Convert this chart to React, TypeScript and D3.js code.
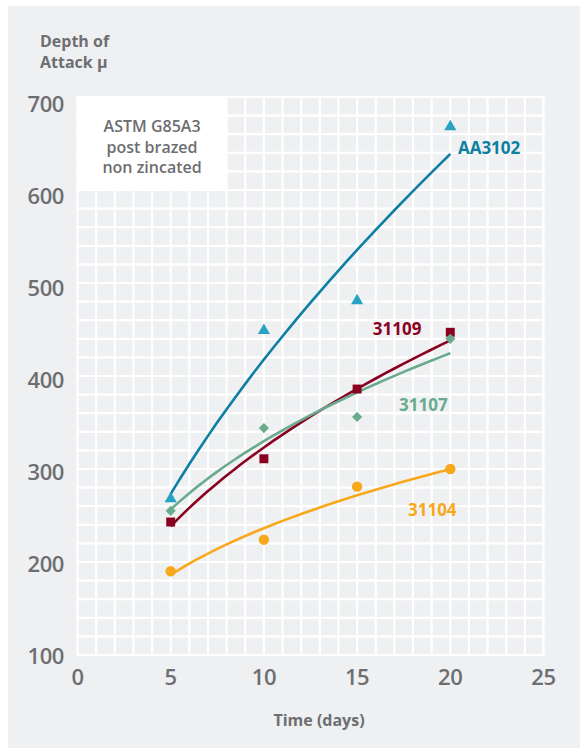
import React, { useEffect, useRef } from 'react';
import * as d3 from 'd3';

// days of exposure
const days = [5, 10, 15, 20];

// depth of attack (µ)
const aa3102 = [269, 450, 482, 669];
const s31109 = [243, 311, 386, 447];
const s31107 = [255, 344, 356, 440];
const s31104 = [190, 224, 281, 300];

const xTicks = [0, 5, 10, 15, 20, 25];
const yTicks = [100, 200, 300, 400, 500, 600, 700];

const seriesNames = ['AA3102', '31109', '31107', '31104'];
const seriesValues = [aa3102, s31109, s31107, s31104];

const lineColors = ['#0d7fa2', '#8a0021', '#6aab8e', '#f8a81b'];
const markerColors = ['#27a3c3', '#8a0021', '#6aab8e', '#f8a81b'];
const symbols = [d3.symbolTriangle, d3.symbolSquare, d3.symbolSquare, d3.symbolCircle];
const symbolSizes = [64, 80, 52, 85];
const symbolRotate = [0, 0, 45, 0];
// label anchor in data units (x, y) for each series
const labelPos: [number, number][] = [[20.41, 639], [15.84, 444], [17.25, 362], [17.73, 250]];

const grey = '#6d6e71';
const font = "'Open Sans', sans-serif";

// power-law trend line y = a * x^b (least squares on logs)
function powerFit(xs: number[], ys: number[]) {
    const lx = xs.map(Math.log);
    const ly = ys.map(Math.log);
    const mx = d3.mean(lx)!;
    const my = d3.mean(ly)!;
    const sxy = d3.sum(lx, (v, i) => (v - mx) * (ly[i] - my));
    const sxx = d3.sum(lx, v => (v - mx) * (v - mx));
    const b = sxy / sxx;
    const a = Math.exp(my - b * mx);
    return (x: number) => a * Math.pow(x, b);
}

const App: React.FC = () => {
    const svgRef = useRef<SVGSVGElement | null>(null);

    useEffect(() => {
        const svg = d3.select(svgRef.current);
        svg.selectAll('*').remove();

        const width = 580;
        const height = 748;
        const plot = { left: 77.5, right: 543.5, top: 97, bottom: 655 };

        // panel background
        svg.append('rect').attr('width', width).attr('height', height).attr('fill', '#ffffff');
        svg.append('rect')
            .attr('x', 8).attr('y', 6)
            .attr('width', width - 8).attr('height', height - 6)
            .attr('fill', '#eff0f2');

        const x = d3.scaleLinear().domain([0, 25]).range([plot.left, plot.right]);
        const y = d3.scaleLinear().domain([100, 700]).range([plot.bottom, plot.top]);
        // tick labels sit on a slightly tighter spacing than the grid
        const yLabel = d3.scaleLinear().domain([100, 700]).range([655.5, 104]);

        // grid of small squares
        const grid = svg.append('g');
        grid.selectAll('line.v')
            .data(d3.range(0, 26, 1))
            .enter().append('line')
            .attr('x1', d => x(d)).attr('x2', d => x(d))
            .attr('y1', plot.top - 1).attr('y2', plot.bottom + 1)
            .attr('stroke', '#fff').attr('stroke-width', 2.2);
        grid.selectAll('line.h')
            .data(d3.range(100, 701, 20))
            .enter().append('line')
            .attr('y1', d => y(d)).attr('y2', d => y(d))
            .attr('x1', plot.left - 1).attr('x2', plot.right + 1)
            .attr('stroke', '#fff').attr('stroke-width', 2.2);

        // info box
        svg.append('rect')
            .attr('x', x(0) - 1).attr('y', y(700) - 1)
            .attr('width', x(8) - x(0) + 1).attr('height', y(600) - y(700) + 1)
            .attr('fill', '#fff');
        const boxText = ['ASTM G85A3', 'post brazed', 'non zincated'];
        svg.append('g').selectAll('text')
            .data(boxText)
            .enter().append('text')
            .attr('x', (x(0) + x(8)) / 2)
            .attr('y', (d, i) => 132 + i * 20.5)
            .attr('text-anchor', 'middle')
            .attr('font-family', font).attr('font-weight', 600).attr('font-size', 16)
            .attr('fill', grey)
            .text(d => d);

        // y axis labels
        svg.append('g').selectAll('text')
            .data(yTicks)
            .enter().append('text')
            .attr('x', 64)
            .attr('y', d => yLabel(d) + 8)
            .attr('text-anchor', 'end')
            .attr('font-family', font).attr('font-weight', 600).attr('font-size', 22)
            .attr('letter-spacing', -0.4)
            .attr('fill', grey)
            .text(d => d);

        // x axis labels
        svg.append('g').selectAll('text')
            .data(xTicks)
            .enter().append('text')
            .attr('x', d => x(d))
            .attr('y', 685)
            .attr('text-anchor', 'middle')
            .attr('font-family', font).attr('font-weight', 600).attr('font-size', 22)
            .attr('letter-spacing', -0.4)
            .attr('fill', grey)
            .text(d => d);

        // axis titles
        const titleStyle = (t: any) => t
            .attr('font-family', font).attr('font-weight', 700).attr('font-size', 16)
            .attr('fill', grey);
        svg.append('text').attr('x', 40).attr('y', 47).call(titleStyle).text('Depth of');
        svg.append('text').attr('x', 40).attr('y', 68).call(titleStyle).text('Attack μ');
        svg.append('text')
            .attr('x', 319).attr('y', 726)
            .attr('text-anchor', 'middle')
            .call(titleStyle)
            .text('Time (days)');

        // trend lines
        const line = d3.line<number>().x(d => x(d[0])).y(d => y(d[1])).curve(d3.curveBasis) as any;
        seriesValues.forEach((vals, si) => {
            const f = powerFit(days, vals);
            const pts = d3.range(days[0], days[days.length - 1] + 0.001, 0.5).map(t => [t, f(t)]);
            svg.append('path')
                .datum(pts)
                .attr('d', line)
                .attr('fill', 'none')
                .attr('stroke', lineColors[si])
                .attr('stroke-width', 2.6);
        });

        // markers
        seriesValues.forEach((vals, si) => {
            svg.append('g').selectAll('path')
                .data(vals)
                .enter().append('path')
                .attr('transform', (d, i) =>
                    `translate(${x(days[i])},${y(d) + (si === 0 ? 1 : 0)}) rotate(${symbolRotate[si]})`)
                .attr('d', d3.symbol().type(symbols[si]).size(symbolSizes[si])())
                .attr('fill', markerColors[si]);
        });

        // series labels
        svg.append('g').selectAll('text')
            .data(seriesNames)
            .enter().append('text')
            .attr('x', (d, i) => x(labelPos[i][0]))
            .attr('y', (d, i) => y(labelPos[i][1]))
            .attr('font-family', font).attr('font-weight', 700).attr('font-size', 17)
            .attr('fill', (d, i) => lineColors[i])
            .text(d => d);
    }, []);

    return (
        <svg ref={svgRef} width={580} height={748}
            style={{ position: 'absolute', left: 0, top: 0 }}></svg>
    );
};

export default App;
